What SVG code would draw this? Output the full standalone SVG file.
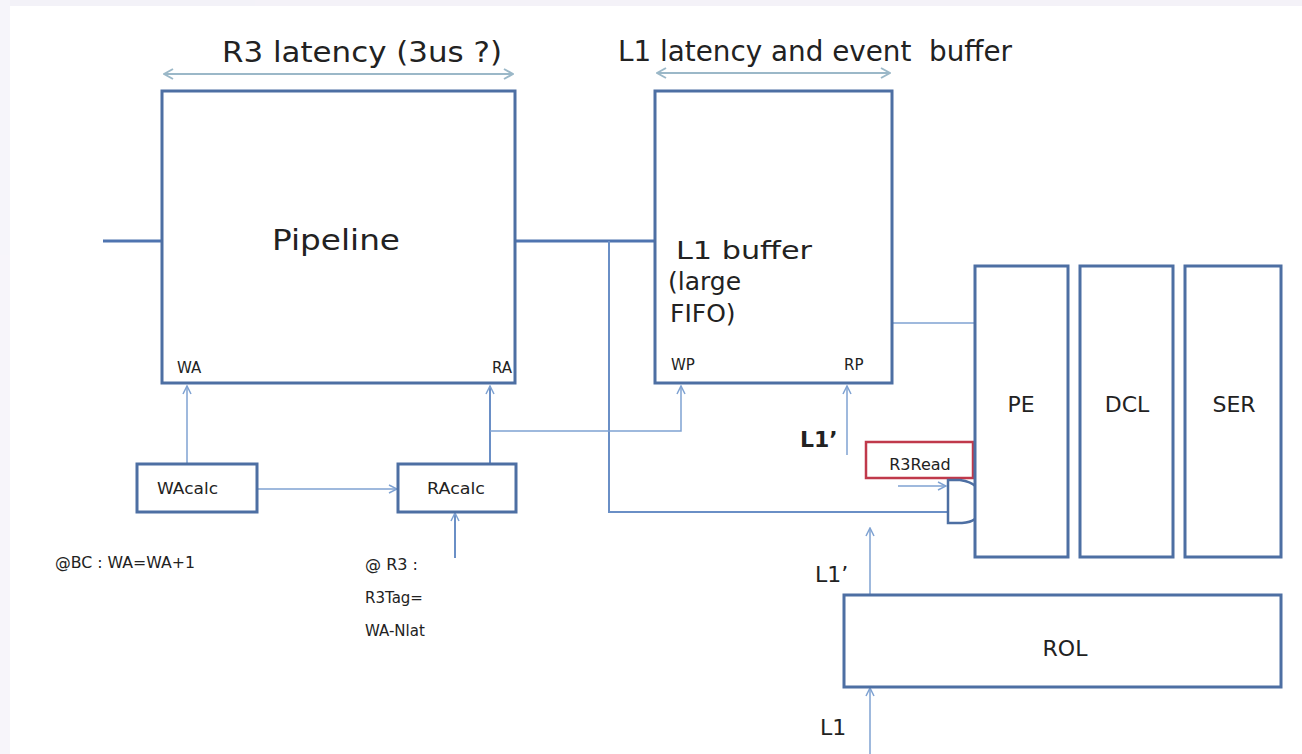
<svg xmlns="http://www.w3.org/2000/svg" width="1302" height="754" viewBox="0 0 1302 754">
<style>
.box{fill:#fff;stroke:#4d6fa3;stroke-width:3}
.thick{stroke:#4f74b0;stroke-width:3;fill:none}
.mid{stroke:#6a8fc6;stroke-width:2;fill:none}
.thin{stroke:#7fa2d2;stroke-width:1.5;fill:none}
.dim{stroke:#9bb8c8;stroke-width:2;fill:none}
text{font-family:"DejaVu Sans","Liberation Sans",sans-serif;fill:#222}
.big{font-size:28px}
.mbig{font-size:25px}
.lbl{font-size:22px}
.sm{font-size:15px}
.bold{font-weight:bold}
</style>
<defs>
<marker id="open" viewBox="0 0 10 10" refX="9" refY="5" markerWidth="10" markerHeight="10" orient="auto-start-reverse" markerUnits="userSpaceOnUse">
<path d="M1,1 L9,5 L1,9" fill="none" stroke="#7fa2d2" stroke-width="1.5"/>
</marker>
<marker id="dimhead" viewBox="0 0 12 12" refX="11" refY="6" markerWidth="12" markerHeight="12" orient="auto-start-reverse" markerUnits="userSpaceOnUse">
<path d="M2,1 L11,6 L2,11" fill="none" stroke="#9bb8c8" stroke-width="2"/>
</marker>
</defs>
<rect width="1302" height="754" fill="#fff"/>
<g id="grid" opacity="0.6">
<rect x="0" y="0" width="1302" height="6" fill="#eceaf4"/>
<rect x="0" y="0" width="10" height="754" fill="#f1eff7"/>
</g>

<g id="connectors">
<line class="dim" x1="164" y1="74" x2="513" y2="74" marker-start="url(#dimhead)" marker-end="url(#dimhead)"/>
<line class="dim" x1="657" y1="73" x2="890" y2="73" marker-start="url(#dimhead)" marker-end="url(#dimhead)"/>
<line class="thick" x1="103" y1="241" x2="162" y2="241"/>
<line class="thick" x1="515" y1="241" x2="655" y2="241"/>
<polyline class="mid" points="609,241 609,512 948,512"/>
<line class="thin" x1="892" y1="323" x2="975" y2="323"/>
<line class="thin" x1="187" y1="464" x2="187" y2="386" marker-end="url(#open)"/>
<line class="mid" x1="490" y1="464" x2="490" y2="386" marker-end="url(#open)"/>
<polyline class="thin" points="490,431 681,431 681,386" marker-end="url(#open)"/>
<line class="thin" x1="257" y1="489" x2="397" y2="489" marker-end="url(#open)"/>
<line class="mid" x1="455" y1="558" x2="455" y2="513" marker-end="url(#open)"/>
<line class="thin" x1="847" y1="455" x2="847" y2="386" marker-end="url(#open)"/>
<line class="thin" x1="898" y1="486" x2="946" y2="486" marker-end="url(#open)"/>
<line class="thin" x1="870" y1="595" x2="870" y2="528" marker-end="url(#open)"/>
<line class="thin" x1="870" y1="754" x2="870" y2="688" marker-end="url(#open)"/>
</g>

<g id="labels-top">
<text class="big" x="222" y="62" textLength="280" lengthAdjust="spacingAndGlyphs">R3 latency (3us ?)</text>
<text class="big" x="618" y="61" textLength="394" lengthAdjust="spacingAndGlyphs" xml:space="preserve" style="white-space:pre">L1 latency and event  buffer</text>
</g>

<g id="pipeline">
<rect class="box" x="162" y="91" width="353" height="292"/>
<text class="big" x="272" y="250" textLength="128" lengthAdjust="spacingAndGlyphs">Pipeline</text>
<text class="sm" x="177" y="373">WA</text>
<text class="sm" x="512" y="373" text-anchor="end">RA</text>
</g>

<g id="l1buffer">
<rect class="box" x="655" y="91" width="237" height="292"/>
<text class="mbig" x="676" y="259" textLength="136" lengthAdjust="spacingAndGlyphs">L1 buffer</text>
<text class="mbig" x="668" y="290">(large</text>
<text class="mbig" x="670" y="322">FIFO)</text>
<text class="sm" x="671" y="370">WP</text>
<text class="sm" x="844" y="370">RP</text>
</g>

<g id="wacalc">
<rect class="box" x="137" y="464" width="120" height="48"/>
<text class="sm" x="157" y="494" textLength="61" lengthAdjust="spacingAndGlyphs">WAcalc</text>
</g>

<g id="racalc">
<rect class="box" x="398" y="464" width="118" height="48"/>
<text class="sm" x="427" y="494" textLength="58" lengthAdjust="spacingAndGlyphs">RAcalc</text>
</g>

<g id="notes">
<text class="sm" x="55" y="568" textLength="140" lengthAdjust="spacingAndGlyphs">@BC : WA=WA+1</text>
<text class="sm" x="365" y="570" textLength="53" lengthAdjust="spacingAndGlyphs">@ R3 :</text>
<text class="sm" x="365" y="603">R3Tag=</text>
<text class="sm" x="365" y="636">WA-Nlat</text>
</g>

<g id="l1prime-labels">
<text class="lbl bold" x="800" y="447">L1’</text>
<text class="lbl" x="815" y="582">L1’</text>
<text class="lbl" x="820" y="735">L1</text>
</g>

<g id="r3read">
<rect x="866" y="442" width="107" height="36" fill="none" stroke="#c0394b" stroke-width="2.5"/>
<text x="920" y="470" text-anchor="middle" font-size="16">R3Read</text>
</g>

<g id="gate">
<path d="M948,480 L960,480 Q982,483 982,502 Q982,522 962,523 L948,523 Z" fill="#fff" stroke="#4d6fa3" stroke-width="2.5"/>
</g>

<g id="pe">
<rect class="box" x="975" y="266" width="93" height="291"/>
<text class="lbl" x="1021" y="412" text-anchor="middle">PE</text>
</g>
<g id="dcl">
<rect class="box" x="1080" y="266" width="93" height="291"/>
<text class="lbl" x="1127" y="412" text-anchor="middle">DCL</text>
</g>
<g id="ser">
<rect class="box" x="1185" y="266" width="96" height="291"/>
<text class="lbl" x="1234" y="412" text-anchor="middle">SER</text>
</g>

<g id="rol">
<rect class="box" x="844" y="595" width="437" height="92"/>
<text class="lbl" x="1065" y="656" text-anchor="middle">ROL</text>
</g>
</svg>
